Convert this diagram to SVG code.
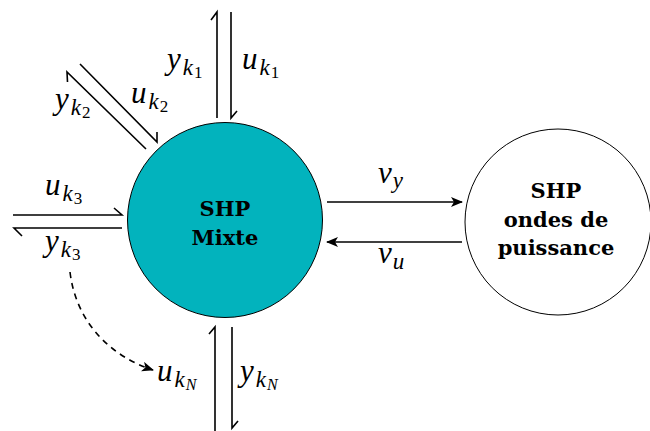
<svg xmlns="http://www.w3.org/2000/svg" width="650" height="431" viewBox="0 0 650 431">
<style>
.ln{stroke:#000;stroke-width:1.6;fill:none;stroke-linecap:butt}
.m{font-family:"Liberation Serif",serif;font-style:italic;font-size:31px;fill:#000}
.s1{font-size:23px}
.s2{font-size:17px;font-style:normal}
.s3{font-size:16px}
.b{font-family:"DejaVu Serif",serif;font-weight:bold;font-size:21px;text-anchor:middle;fill:#000}
</style>
<defs>
<marker id="ah" viewBox="0 0 12 10" refX="11" refY="5" markerWidth="12" markerHeight="10" markerUnits="userSpaceOnUse" orient="auto">
<path d="M0,0 L12,5 L0,10 L3,5 Z" fill="#000"/>
</marker>
</defs>
<g id="shp-mixte">
<circle cx="225" cy="220" r="97.5" fill="#02b3bd" stroke="#000" stroke-width="1"/>
<text class="b" x="225" y="216">SHP</text>
<text class="b" x="225" y="245">Mixte</text>
</g>
<g id="shp-ondes">
<circle cx="558" cy="222" r="93" fill="#fff" stroke="#000" stroke-width="1"/>
<text class="b" x="556" y="198">SHP</text>
<text class="b" x="556" y="227">ondes de</text>
<text class="b" x="556" y="255">puissance</text>
</g>
<g id="connectors">
<path class="ln" d="M217,118 L217,12 L211,20"/>
<path class="ln" d="M231,12 L231,118 L237,111"/>
<path class="ln" d="M146,149 L67,72 L67.5,82"/>
<path class="ln" d="M80,64 L157,142 L157,132"/>
<path class="ln" d="M13,215 L122,215 L114,208"/>
<path class="ln" d="M122,228 L14,228 L22,236"/>
<path class="ln" d="M215,431 L215,327 L209,334"/>
<path class="ln" d="M232,327 L232,428 L238,421"/>
<path class="ln" d="M327,202 L462,202" marker-end="url(#ah)"/>
<path class="ln" d="M462,242 L327,242" marker-end="url(#ah)"/>
<path class="ln" d="M70,272 C76,322 110,356 153,370" stroke-dasharray="6 5" marker-end="url(#ah)"/>
</g>
<g id="labels">
<text class="m" x="167" y="69">y<tspan class="s1" dx="2" dy="6">k</tspan><tspan class="s2" dx="1" dy="3">1</tspan></text>
<text class="m" x="242" y="69">u<tspan class="s1" dx="2" dy="6">k</tspan><tspan class="s2" dx="1" dy="3">1</tspan></text>
<text class="m" x="55" y="109">y<tspan class="s1" dx="2" dy="6">k</tspan><tspan class="s2" dx="1" dy="3">2</tspan></text>
<text class="m" x="131" y="103">u<tspan class="s1" dx="2" dy="6">k</tspan><tspan class="s2" dx="1" dy="3">2</tspan></text>
<text class="m" x="45" y="195">u<tspan class="s1" dx="2" dy="6">k</tspan><tspan class="s2" dx="1" dy="3">3</tspan></text>
<text class="m" x="45" y="251">y<tspan class="s1" dx="2" dy="6">k</tspan><tspan class="s2" dx="1" dy="3">3</tspan></text>
<text class="m" x="157" y="381">u<tspan class="s1" dx="2" dy="6">k</tspan><tspan class="s3" dx="1" dy="3">N</tspan></text>
<text class="m" x="240" y="381">y<tspan class="s1" dx="2" dy="6">k</tspan><tspan class="s3" dx="1" dy="3">N</tspan></text>
<text class="m" x="378" y="183">ν<tspan class="s1" dx="1" dy="5">y</tspan></text>
<text class="m" x="378" y="263">ν<tspan class="s1" dx="1" dy="6">u</tspan></text>
</g>
</svg>
